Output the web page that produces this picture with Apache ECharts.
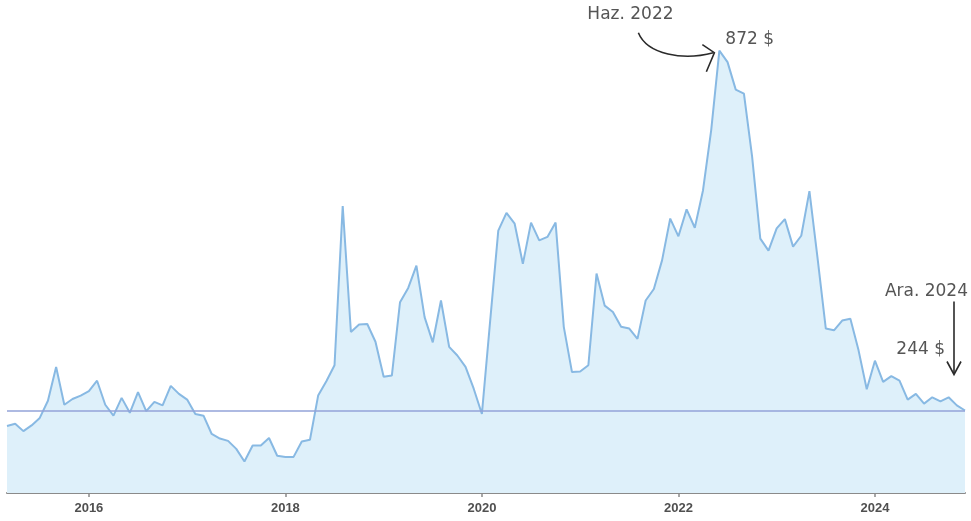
<!DOCTYPE html>
<html>
<head>
<meta charset="utf-8">
<script src="https://cdn.jsdelivr.net/npm/echarts@6/dist/echarts.min.js"></script>
<style>
html,body{margin:0;padding:0;background:#fff;}
#chart{width:971px;height:521px;}
</style>
</head>
<body>
<div id="chart"></div>
<script>
// Monthly prices (USD), March 2015 – December 2024
const startYear = 2015, startMonth = 3;
const values = [
  217,221,208,218,231,261,320,254,264,270,
  278,296,254,235,266,240,276,243,259,253,287,273,
  263,238,235,203,195,191,177,155,183,183,196,165,
  163,163,190,193,270,295,323,601,381,394,395,364,
  303,305,433,458,497,407,363,436,355,340,320,282,
  238,399,558,589,570,500,572,541,547,572,390,311,
  312,323,483,427,416,390,387,369,436,456,506,579,
  548,595,563,628,733,872,852,804,797,687,544,523,
  562,578,530,549,627,509,387,384,401,404,349,281,
  331,294,304,296,263,273,256,267,260,267,253,244
];
const tickYears = ['2016','2018','2020','2022','2024'];
const refValue = 244;
const peakLabel = ['Haz. 2022', '872 $'];
const lastLabel = ['Ara. 2024', '244 $'];

const categories = values.map((v, i) => {
  const m = startMonth - 1 + i;
  const y = startYear + Math.floor(m / 12);
  const mm = (m % 12) + 1;
  return y + '-' + String(mm).padStart(2, '0');
});
const isTick = (idx) => {
  const c = categories[idx];
  return c.endsWith('-01') && tickYears.includes(c.slice(0, 4));
};

const chart = echarts.init(document.getElementById('chart'));
const font = '"DejaVu Sans", "Open Sans", Arial, sans-serif';
chart.setOption({
  animation: false,
  grid: {left: 7, right: 6, top: 6, bottom: 28},
  xAxis: {
    type: 'category',
    data: categories,
    boundaryGap: false,
    axisLine: {show: true, lineStyle: {color: '#8a8a8a', width: 2}},
    axisTick: {show: true, interval: (i) => isTick(i), length: 4, lineStyle: {color: '#8a8a8a', width: 1.5}},
    axisLabel: {
      interval: (i) => isTick(i),
      formatter: (v) => v.slice(0, 4),
      color: '#505050', fontSize: 13, fontWeight: 'bold', margin: 9, fontFamily: 'Arial, "Liberation Sans", sans-serif'
    },
    splitLine: {show: false}
  },
  yAxis: {type: 'value', min: 100, max: 950, show: false, splitLine: {show: false}},
  series: [{
    type: 'line',
    data: values,
    symbol: 'none',
    lineStyle: {color: '#88b9e3', width: 2},
    areaStyle: {color: '#def0fa', opacity: 1},
    markLine: {
      silent: true, symbol: 'none', label: {show: false},
      lineStyle: {color: '#93a3d8', width: 1.5, type: 'solid'},
      data: [{yAxis: refValue}]
    }
  }]
});

// Annotations anchored to data points
const peakIdx = values.indexOf(Math.max(...values));
const lastIdx = values.length - 1;
const pk = chart.convertToPixel({gridIndex: 0}, [peakIdx, values[peakIdx]]);
const ls = chart.convertToPixel({gridIndex: 0}, [lastIdx, values[lastIdx]]);
const txt = (x, y, s, align) => ({
  type: 'text', x: x, y: y,
  style: {text: s, fill: '#555', font: '17px ' + font, textAlign: align || 'left', textVerticalAlign: 'middle'}
});
const ink = {stroke: '#2a2a2a', lineWidth: 1.6, fill: null};
chart.setOption({
  graphic: [
    txt(pk[0] - 132, pk[1] - 36, peakLabel[0]),
    txt(pk[0] + 6, pk[1] - 11, peakLabel[1]),
    {type: 'bezierCurve', shape: {x1: pk[0] - 81, y1: pk[1] - 18, cpx1: pk[0] - 72, cpy1: pk[1] + 4, cpx2: pk[0] - 36, cpy2: pk[1] + 10, x2: pk[0] - 6, y2: pk[1] + 2}, style: ink},
    {type: 'polyline', shape: {points: [[pk[0] - 17, pk[1] - 6], [pk[0] - 5, pk[1] + 2], [pk[0] - 13, pk[1] + 21]]}, style: ink},
    txt(ls[0] + 3, ls[1] - 119, lastLabel[0], 'right'),
    txt(ls[0] - 20, ls[1] - 61, lastLabel[1], 'right'),
    {type: 'line', shape: {x1: ls[0] - 11, y1: ls[1] - 109, x2: ls[0] - 11, y2: ls[1] - 37}, style: ink},
    {type: 'polyline', shape: {points: [[ls[0] - 18, ls[1] - 49], [ls[0] - 11, ls[1] - 36], [ls[0] - 4, ls[1] - 49]]}, style: ink}
  ]
});
</script>
</body>
</html>
